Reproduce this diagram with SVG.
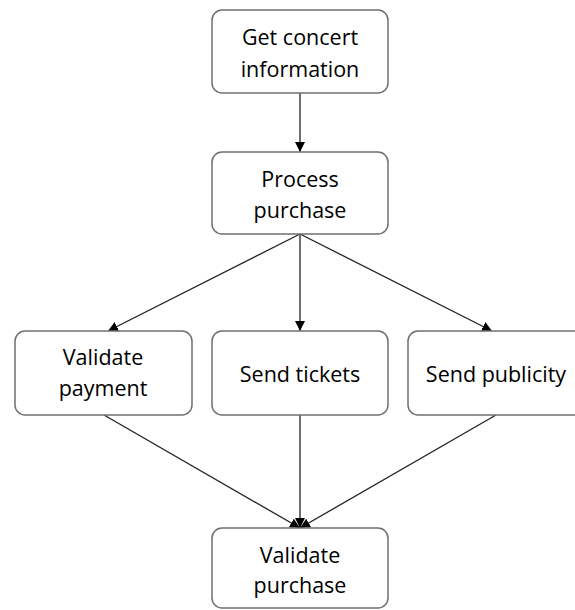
<svg xmlns="http://www.w3.org/2000/svg" width="575" height="610" viewBox="0 0 575 610">
  <defs>
    <marker id="arrow" viewBox="0 0 10 10" refX="10" refY="5" markerWidth="10" markerHeight="10" markerUnits="userSpaceOnUse" orient="auto">
      <path d="M0,0 L10,5 L0,10 z" fill="#000"/>
    </marker>
    <style>
      .box { fill: #fff; stroke: #707070; stroke-width: 1.5; }
      .lbl { font-family: "Open Sans", "Liberation Sans", sans-serif; font-size: 21.5px; font-weight: 500; fill: #000; text-anchor: middle; }
      .edge { stroke: #222; stroke-width: 1.3; fill: none; marker-end: url(#arrow); }
    </style>
  </defs>
  <rect width="575" height="610" fill="#fff"/>

  <g id="connectors">
    <line class="edge" x1="300" y1="93" x2="300" y2="152"/>
    <line class="edge" x1="300" y1="234" x2="108" y2="331"/>
    <line class="edge" x1="300" y1="234" x2="300" y2="331"/>
    <line class="edge" x1="300" y1="234" x2="492" y2="331"/>
    <line class="edge" x1="104" y1="415" x2="300" y2="528"/>
    <line class="edge" x1="300" y1="415" x2="300" y2="528"/>
    <line class="edge" x1="496" y1="415" x2="300" y2="528"/>
  </g>

  <g id="get-concert-information">
    <rect class="box" x="212" y="10" width="176" height="83" rx="10"/>
    <text class="lbl" x="300" y="45">Get concert</text>
    <text class="lbl" x="300" y="77">information</text>
  </g>

  <g id="process-purchase">
    <rect class="box" x="212" y="152" width="176" height="82" rx="10"/>
    <text class="lbl" x="300" y="187">Process</text>
    <text class="lbl" x="300" y="218">purchase</text>
  </g>

  <g id="validate-payment">
    <rect class="box" x="15" y="331" width="177" height="84" rx="10"/>
    <text class="lbl" x="103" y="365">Validate</text>
    <text class="lbl" x="103" y="396">payment</text>
  </g>

  <g id="send-tickets">
    <rect class="box" x="212" y="331" width="176" height="84" rx="10"/>
    <text class="lbl" x="300" y="382">Send tickets</text>
  </g>

  <g id="send-publicity">
    <rect class="box" x="408" y="331" width="176" height="84" rx="10"/>
    <text class="lbl" x="496" y="382">Send publicity</text>
  </g>

  <g id="validate-purchase">
    <rect class="box" x="212" y="528" width="176" height="80" rx="10"/>
    <text class="lbl" x="300" y="563">Validate</text>
    <text class="lbl" x="300" y="593">purchase</text>
  </g>
</svg>
